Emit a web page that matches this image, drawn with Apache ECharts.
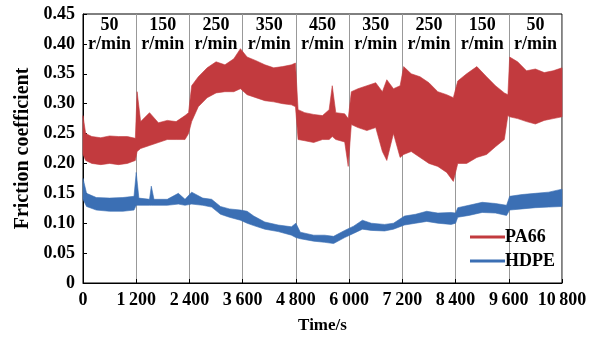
<!DOCTYPE html>
<html>
<head>
<meta charset="utf-8">
<script src="https://cdn.jsdelivr.net/npm/echarts@6/dist/echarts.min.js"></script>
<style>
  html, body { margin: 0; padding: 0; background: #fff; }
  #chart { width: 597px; height: 339px; }
</style>
</head>
<body>
<div id="chart"></div>
<script>
// rotation speed in each 1200 s stage
const speedLabels = ["50\nr/min", "150\nr/min", "250\nr/min", "350\nr/min", "450\nr/min",
  "350\nr/min", "250\nr/min", "150\nr/min", "50\nr/min"];

// PA66 friction band: upper and lower edge
const paTime = [0, 60, 200, 400, 600, 800, 1000, 1180, 1220, 1300, 1500, 1700, 1900, 2100, 2300, 2380,
  2450, 2600, 2800, 3000, 3200, 3400, 3550, 3700, 3900, 4100, 4300, 4500, 4700, 4790,
  4850, 5000, 5200, 5400, 5550, 5620, 5700, 5900, 5980, 6050, 6200, 6400, 6600, 6750, 6850, 7000, 7150,
  7230, 7400, 7600, 7800, 8000, 8200, 8350, 8450, 8650, 8880, 9100, 9300, 9500, 9580,
  9620, 9800, 10000, 10200, 10400, 10600, 10800];
const paHigh = [0.28, 0.25, 0.245, 0.243, 0.246, 0.245, 0.245, 0.242, 0.32, 0.27, 0.285, 0.268, 0.272, 0.27, 0.28, 0.285,
  0.33, 0.345, 0.36, 0.37, 0.365, 0.375, 0.392, 0.378, 0.372, 0.365, 0.36, 0.362, 0.365, 0.368,
  0.29, 0.285, 0.282, 0.28, 0.29, 0.33, 0.285, 0.283, 0.275, 0.32, 0.325, 0.33, 0.335, 0.32, 0.34, 0.325, 0.33,
  0.362, 0.35, 0.345, 0.335, 0.32, 0.315, 0.31, 0.338, 0.35, 0.362, 0.345, 0.33, 0.318, 0.315,
  0.378, 0.37, 0.355, 0.358, 0.352, 0.355, 0.36];
const paLow = [0.215, 0.205, 0.2, 0.198, 0.2, 0.198, 0.2, 0.205, 0.22, 0.225, 0.23, 0.235, 0.24, 0.24, 0.24, 0.25,
  0.27, 0.295, 0.31, 0.318, 0.32, 0.32, 0.325, 0.315, 0.31, 0.305, 0.303, 0.3, 0.298, 0.295,
  0.24, 0.238, 0.235, 0.24, 0.24, 0.245, 0.24, 0.236, 0.195, 0.265, 0.26, 0.255, 0.26, 0.22, 0.205, 0.25, 0.21,
  0.215, 0.22, 0.21, 0.2, 0.195, 0.185, 0.17, 0.2, 0.2, 0.21, 0.215, 0.228, 0.24, 0.28,
  0.278, 0.275, 0.27, 0.266, 0.272, 0.275, 0.278];

// HDPE friction band
const hdTime = [0, 80, 300, 600, 900, 1150, 1200, 1260, 1500, 1540, 1600, 1900, 2150, 2300, 2450, 2700,
  2900, 3100, 3300, 3550, 3700, 3850, 4100, 4400, 4700, 4800, 4900, 5200, 5450, 5650, 5900,
  6100, 6300, 6500, 6800, 7000, 7250, 7500, 7750, 8000, 8300, 8400, 8450, 8700, 9000, 9300, 9550,
  9620, 9900, 10200, 10500, 10800];
const hdHigh = [0.175, 0.15, 0.143, 0.142, 0.143, 0.145, 0.185, 0.142, 0.14, 0.162, 0.14, 0.14, 0.15, 0.14, 0.152, 0.142,
  0.14, 0.128, 0.124, 0.122, 0.12, 0.112, 0.102, 0.097, 0.094, 0.1, 0.085, 0.08, 0.08, 0.078, 0.088,
  0.095, 0.105, 0.1, 0.098, 0.1, 0.112, 0.115, 0.12, 0.117, 0.118, 0.117, 0.126, 0.13, 0.135, 0.133, 0.13,
  0.145, 0.148, 0.15, 0.152, 0.157];
const hdLow = [0.14, 0.128, 0.122, 0.12, 0.12, 0.122, 0.13, 0.13, 0.13, 0.13, 0.13, 0.13, 0.132, 0.13, 0.132, 0.13,
  0.127, 0.115, 0.11, 0.105, 0.1, 0.096, 0.09, 0.086, 0.08, 0.076, 0.074, 0.07, 0.068, 0.066, 0.076,
  0.083, 0.09, 0.088, 0.087, 0.09, 0.097, 0.1, 0.103, 0.1, 0.098, 0.1, 0.11, 0.113, 0.118, 0.117, 0.113,
  0.122, 0.124, 0.126, 0.127, 0.128];

const RED = "#c23a3e";
const BLUE = "#3b6fb4";
const FONT = "Liberation Serif";

// rows [t, high, low]; the whole band is drawn as one polygon on the first row
function bandRows(time, high, low) {
  return time.map((t, i) => [t, high[i], low[i]]);
}

function bandItem(rows, color) {
  return function (params, api) {
    if (params.dataIndex !== 0) return null;
    const top = rows.map((r) => api.coord([r[0], r[1]]));
    const bottom = rows.map((r) => api.coord([r[0], r[2]])).reverse();
    return {
      type: "polygon",
      shape: { points: top.concat(bottom) },
      style: { fill: color, stroke: color, lineWidth: 0.6 },
    };
  };
}

const paRows = bandRows(paTime, paHigh, paLow);
const hdRows = bandRows(hdTime, hdHigh, hdLow);

const myChart = echarts.init(document.getElementById("chart"));

myChart.setOption({
  animation: false,
  grid: { left: 83, right: 35, top: 14, bottom: 56, show: true, borderColor: "#000", borderWidth: 1 },
  legend: {
    data: ["PA66", "HDPE"],
    orient: "vertical",
    right: 37,
    top: 223,
    itemWidth: 35,
    itemHeight: 3,
    itemGap: 6,
    icon: "rect",
    textStyle: { fontFamily: FONT, fontWeight: "bold", fontSize: 18, color: "#000", padding: [0, 0, 0, -5] },
  },
  xAxis: [
    {
      type: "value",
      min: 0,
      max: 10800,
      interval: 1200,
      name: "Time/s",
      nameLocation: "middle",
      nameGap: 34,
      nameTextStyle: { fontFamily: FONT, fontWeight: "bold", fontSize: 17, color: "#000" },
      axisLine: { lineStyle: { color: "#000" } },
      axisTick: { inside: true, length: 4, lineStyle: { color: "#000" } },
      splitLine: { show: true, lineStyle: { color: "#999", width: 1 } },
      axisLabel: {
        fontFamily: FONT, fontWeight: "bold", fontSize: 18, color: "#000", margin: 8,
        formatter: (v) => String(v).replace(/\B(?=(\d{3})+(?!\d))/g, "\u2009"),
      },
    },
    {
      type: "category",
      position: "top",
      data: speedLabels,
      boundaryGap: true,
      axisLine: { show: false },
      axisTick: { show: false },
      splitLine: { show: false },
      axisLabel: {
        inside: true, interval: 0, margin: 2, fontFamily: FONT, fontWeight: "bold", fontSize: 18,
        lineHeight: 19, color: "#000", verticalAlign: "top",
      },
    },
  ],
  yAxis: {
    type: "value",
    min: 0,
    max: 0.45,
    interval: 0.05,
    name: "Friction coefficient",
    nameLocation: "middle",
    nameGap: 49,
    nameTextStyle: { fontFamily: FONT, fontWeight: "bold", fontSize: 20, color: "#000" },
    axisLine: { show: true, lineStyle: { color: "#000" } },
    axisTick: { show: true, inside: true, length: 4, lineStyle: { color: "#000" } },
    splitLine: { show: false },
    axisLabel: {
      fontFamily: FONT, fontWeight: "bold", fontSize: 18, color: "#000", margin: 8,
      formatter: (v) => (v === 0 ? "0" : v.toFixed(2)),
    },
  },
  series: [
    {
      name: "PA66", type: "custom", xAxisIndex: 0, yAxisIndex: 0,
      data: paRows,
      encode: { x: 0, y: [1, 2] },
      itemStyle: { color: RED },
      renderItem: bandItem(paRows, RED),
    },
    {
      name: "HDPE", type: "custom", xAxisIndex: 0, yAxisIndex: 0,
      data: hdRows,
      encode: { x: 0, y: [1, 2] },
      itemStyle: { color: BLUE },
      renderItem: bandItem(hdRows, BLUE),
    },
  ],
});
</script>
</body>
</html>
